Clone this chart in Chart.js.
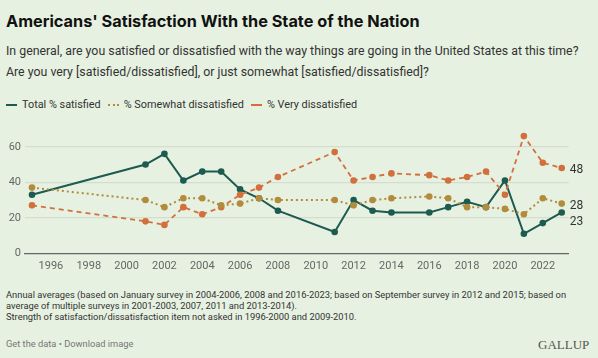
<!DOCTYPE html>
<html>
<head>
<meta charset="utf-8">
<script src="https://cdn.jsdelivr.net/npm/chart.js@4"></script>
<style>
  html, body { margin:0; padding:0; }
  body { width:598px; height:358px; background:#e6f1e1; font-family: Roboto, "Noto Sans", sans-serif; color:#222; position:relative; overflow:hidden; }
  .abs { position:absolute; white-space:nowrap; }
  #title { left:6px; top:11px; font-family: Inter, Roboto, sans-serif; font-size:16.3px; font-weight:700; color:#111; }
  .sub { left:6px; font-size:12.35px; color:#333; }
  #legend { left:6px; top:98px; font-size:10.85px; color:#333; display:flex; align-items:center; }
  .li { display:flex; align-items:center; margin-right:7px; }
  .sw { display:inline-block; width:11px; height:0; margin-right:5px; }
  .foot { left:6px; font-size:9.35px; color:#333; }
  #links { left:6px; top:338px; font-size:9.3px; color:#777; }
  #gallup { left:538px; top:337px; font-family:"Liberation Serif", "DejaVu Serif", serif; font-size:13px; color:#555; }
  #wrap { position:absolute; left:0; top:118px; width:598px; height:160px; }
</style>
</head>
<body>
<div id="title" class="abs">Americans' Satisfaction With the State of the Nation</div>
<div class="abs sub" style="top:44px">In general, are you satisfied or dissatisfied with the way things are going in the United States at this time?</div>
<div class="abs sub" style="top:65px">Are you very [satisfied/dissatisfied], or just somewhat [satisfied/dissatisfied]?</div>
<div id="legend" class="abs"></div>
<div id="wrap"><canvas id="c"></canvas></div>
<div class="abs foot" style="top:289px">Annual averages (based on January survey in 2004-2006, 2008 and 2016-2023; based on September survey in 2012 and 2015; based on</div>
<div class="abs foot" style="top:300px">average of multiple surveys in 2001-2003, 2007, 2011 and 2013-2014).</div>
<div class="abs foot" style="top:311px">Strength of satisfaction/dissatisfaction item not asked in 1996-2000 and 2009-2010.</div>
<div id="links" class="abs">Get the data • Download image</div>
<div id="gallup" class="abs">GALLUP</div>
<script>
const years = [1995, 2001, 2002, 2003, 2004, 2005, 2006, 2007, 2008, 2011, 2012, 2013, 2014, 2016, 2017, 2018, 2019, 2020, 2021, 2022, 2023];
const totalSatisfied = [33, 50, 56, 41, 46, 46, 36, 31, 24, 12, 30, 24, 23, 23, 26, 29, 26, 41, 11, 17, 23];
const somewhatDissatisfied = [37, 30, 26, 31, 31, 27, 28, 31, 30, 30, 27, 30, 31, 32, 31, 26, 26, 25, 22, 31, 28];
const veryDissatisfied = [27, 18, 16, 26, 22, 26, 33, 37, 43, 57, 41, 43, 45, 44, 41, 43, 46, 33, 66, 51, 48];
const xTickYears = [1996, 1998, 2000, 2002, 2004, 2006, 2008, 2010, 2012, 2014, 2016, 2018, 2020, 2022];
const yTickValues = [0, 20, 40, 60];
const seriesNames = ["Total % satisfied", "% Somewhat dissatisfied", "% Very dissatisfied"];

const GREEN = "#1d5a4f", GOLD = "#b38b3c", ORANGE = "#d2703d";

const mk = (vals) => years.map((y, i) => ({x: y, y: vals[i]}));

const datasets = [
  { label: seriesNames[1], data: mk(somewhatDissatisfied), borderColor: GOLD, backgroundColor: GOLD, borderWidth: 2, borderDash: [2, 3], pointRadius: 3.3, pointBorderWidth: 0, pointHoverRadius: 3.3, tension: 0 },
  { label: seriesNames[2], data: mk(veryDissatisfied), borderColor: ORANGE, backgroundColor: ORANGE, borderWidth: 1.8, borderDash: [5, 4], pointRadius: 3.3, pointBorderWidth: 0, pointHoverRadius: 3.3, tension: 0 },
  { label: seriesNames[0], data: mk(totalSatisfied), borderColor: GREEN, backgroundColor: GREEN, borderWidth: 2, pointRadius: 3.3, pointBorderWidth: 0, pointHoverRadius: 3.3, tension: 0 }
];

// HTML legend
const legendEl = document.getElementById('legend');
[[seriesNames[0], GREEN, 'solid', 2.5], [seriesNames[1], GOLD, 'dotted', 2], [seriesNames[2], ORANGE, 'dashed', 2]].forEach(([name, col, style, w]) => {
  const item = document.createElement('span'); item.className = 'li';
  const sw = document.createElement('span'); sw.className = 'sw';
  sw.style.borderTop = w + 'px ' + style + ' ' + col;
  const t = document.createElement('span'); t.textContent = name;
  item.appendChild(sw); item.appendChild(t); legendEl.appendChild(item);
});

const endLabels = {
  id: 'endLabels',
  afterDatasetsDraw(chart) {
    const ctx = chart.ctx;
    ctx.save();
    ctx.font = '12px Roboto, "Noto Sans", sans-serif';
    ctx.fillStyle = '#333';
    ctx.textBaseline = 'middle';
    ctx.textAlign = 'left';
    const labels = chart.data.datasets.map((ds, i) => {
      const meta = chart.getDatasetMeta(i);
      const last = meta.data[meta.data.length - 1];
      return { x: last.x + 8, y: last.y + 2, v: ds.data[ds.data.length - 1].y };
    }).sort((a, b) => a.y - b.y);
    for (let i = 1; i < labels.length; i++) {
      if (labels[i].y - labels[i - 1].y < 16) labels[i].y = labels[i - 1].y + 16;
    }
    labels.forEach(l => ctx.fillText(String(l.v), l.x, l.y));
    ctx.restore();
  }
};

new Chart(document.getElementById('c'), {
  type: 'line',
  data: { datasets },
  plugins: [endLabels],
  options: {
    responsive: true,
    maintainAspectRatio: false,
    animation: false,
    layout: { padding: { top: 11, right: 29.3, bottom: 0, left: 0 } },
    plugins: { legend: { display: false }, tooltip: { enabled: false } },
    scales: {
      x: {
        type: 'linear', min: 1994.63, max: 2023.37,
        afterBuildTicks: (s) => { s.ticks = xTickYears.map(v => ({value: v})); },
        afterFit: (s) => { s.height = 24.7; },
        ticks: { color: '#666', font: { size: 11, family: 'Roboto, "Noto Sans", sans-serif' }, padding: 6, maxRotation: 0, autoSkip: false, callback: (v) => String(v) },
        grid: { display: false, drawTicks: false },
        border: { display: true, color: '#666', width: 1.3 }
      },
      y: {
        min: 0, max: 70,
        afterBuildTicks: (s) => { s.ticks = yTickValues.map(v => ({value: v})); },
        afterFit: (s) => { s.width = 25; },
        ticks: { color: '#666', font: { size: 11, family: 'Roboto, "Noto Sans", sans-serif' }, padding: 4 },
        grid: { color: (c) => c.tick && c.tick.value === 0 ? 'rgba(0,0,0,0)' : '#d4ddce', lineWidth: 1.3, drawTicks: false },
        border: { display: false }
      }
    }
  }
});
</script>
</body>
</html>
